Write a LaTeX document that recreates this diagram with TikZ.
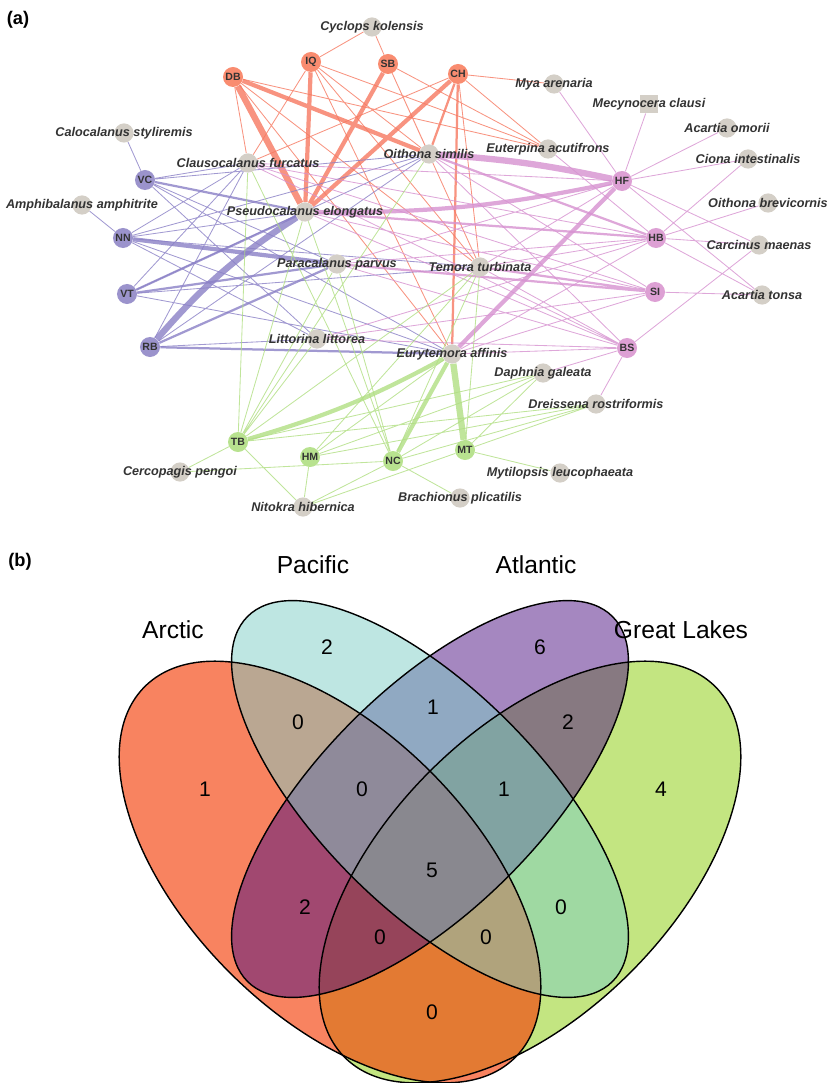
\documentclass[tikz,border=0pt]{standalone}
\usepackage{fontspec}
\setmainfont{Liberation Sans}
\setsansfont{Liberation Sans}
\usetikzlibrary{backgrounds}

\definecolor{arcred}{RGB}{249,140,112}
\definecolor{atlpurple}{RGB}{155,147,204}
\definecolor{pacpink}{RGB}{221,160,212}
\definecolor{lakegreen}{RGB}{184,226,143}
\definecolor{spgray}{RGB}{212,207,199}
\definecolor{txtgray}{RGB}{51,51,51}
\definecolor{redlink}{RGB}{246,120,96}
\definecolor{purplelink}{RGB}{138,128,198}
\definecolor{pinklink}{RGB}{214,145,208}
\definecolor{greenlink}{RGB}{176,222,130}
\definecolor{vennarctic}{RGB}{245,65,11}
\definecolor{vennpacific}{RGB}{125,205,197}
\definecolor{vennatlantic}{RGB}{75,15,129}
\definecolor{vennlakes}{RGB}{135,203,3}

\tikzset{
  region/.style={circle, fill=#1, minimum size=0.5cm, inner sep=0pt,
    font=\fontsize{7.5}{8}\selectfont\bfseries, text=txtgray},
  species/.style={circle, fill=spgray, minimum size=0.48cm, inner sep=0pt},
  spsquare/.style={rectangle, fill=spgray, minimum size=0.46cm, inner sep=0pt},
  splabel/.style={font=\fontsize{9}{10}\selectfont\bfseries\itshape,
    text=txtgray, inner sep=0pt},
  link/.style={draw=#1, opacity=0.8, line width=0.6pt},
  lnmid/.style={line width=1.6pt},
  lnthick/.style={line width=3pt},
  lnxthick/.style={line width=4.5pt},
  vennfill/.style={fill=#1, fill opacity=0.5},
  vennline/.style={draw=black, line width=1pt},
  setname/.style={font=\fontsize{17.5}{20}\selectfont, text=black},
  count/.style={font=\fontsize{15}{18}\selectfont, text=black},
  panel/.style={font=\fontsize{13}{15}\selectfont\bfseries},
}

\begin{document}
\begin{tikzpicture}[x=0.025cm, y=-0.025cm]
  \useasboundingbox (0,0) rectangle (830,1083);
  \node[panel] (pa) at (18,20) {(a)};
  \node[panel] (pb) at (20,562) {(b)};

  % sampling sites
  \node[region=arcred] (DB) at (233,77) {DB};
  \node[region=arcred] (IQ) at (311,62) {IQ};
  \node[region=arcred] (SB) at (388,64) {SB};
  \node[region=arcred] (CH) at (458,74) {CH};
  \node[region=atlpurple] (VC) at (145,180) {VC};
  \node[region=atlpurple] (NN) at (123,238) {NN};
  \node[region=atlpurple] (VT) at (127,294) {VT};
  \node[region=atlpurple] (RB) at (150,347) {RB};
  \node[region=pacpink] (HF) at (622,181) {HF};
  \node[region=pacpink] (HB) at (656,238) {HB};
  \node[region=pacpink] (SI) at (655,292) {SI};
  \node[region=pacpink] (BS) at (627,348) {BS};
  \node[region=lakegreen] (TB) at (238,442) {TB};
  \node[region=lakegreen] (HM) at (310,457) {HM};
  \node[region=lakegreen] (NC) at (393,461) {NC};
  \node[region=lakegreen] (MT) at (465,450) {MT};

  % species
  \node[species] (cyclops) at (372,27) {};
  \node[species] (caloc) at (124,133) {};
  \node[species] (amphib) at (82,205) {};
  \node[species] (clauso) at (248,163) {};
  \node[species] (pseudo) at (305,212) {};
  \node[species] (oithsim) at (429,154) {};
  \node[species] (paraca) at (337,264) {};
  \node[species] (temora) at (480,267) {};
  \node[species] (littor) at (317,339) {};
  \node[species] (euryt) at (452,354) {};
  \node[species] (euterp) at (548,149) {};
  \node[species] (mya) at (554,84) {};
  \node[spsquare] (mecyn) at (649,104) {};
  \node[species] (acomor) at (727,128) {};
  \node[species] (ciona) at (748,159) {};
  \node[species] (oithbre) at (768,203) {};
  \node[species] (carcin) at (759,245) {};
  \node[species] (actons) at (762,295) {};
  \node[species] (daphn) at (543,373) {};
  \node[species] (dreiss) at (596,404) {};
  \node[species] (mytil) at (560,473) {};
  \node[species] (brach) at (460,498) {};
  \node[species] (nitok) at (303,507) {};
  \node[species] (cercop) at (180,472) {};

  \node[splabel] (cyclops-t) at (cyclops) {Cyclops kolensis};
  \node[splabel] (caloc-t) at (caloc) {Calocalanus styliremis};
  \node[splabel] (amphib-t) at (amphib) {Amphibalanus amphitrite};
  \node[splabel] (clauso-t) at (clauso) {Clausocalanus furcatus};
  \node[splabel] (pseudo-t) at (pseudo) {Pseudocalanus elongatus};
  \node[splabel] (oithsim-t) at (oithsim) {Oithona similis};
  \node[splabel] (paraca-t) at (paraca) {Paracalanus parvus};
  \node[splabel] (temora-t) at (temora) {Temora turbinata};
  \node[splabel] (littor-t) at (littor) {Littorina littorea};
  \node[splabel] (euryt-t) at (euryt) {Eurytemora affinis};
  \node[splabel] (euterp-t) at (euterp) {Euterpina acutifrons};
  \node[splabel] (mya-t) at (mya) {Mya arenaria};
  \node[splabel] (mecyn-t) at (mecyn) {Mecynocera clausi};
  \node[splabel] (acomor-t) at (acomor) {Acartia omorii};
  \node[splabel] (ciona-t) at (ciona) {Ciona intestinalis};
  \node[splabel] (oithbre-t) at (oithbre) {Oithona brevicornis};
  \node[splabel] (carcin-t) at (carcin) {Carcinus maenas};
  \node[splabel] (actons-t) at (actons) {Acartia tonsa};
  \node[splabel] (daphn-t) at (daphn) {Daphnia galeata};
  \node[splabel] (dreiss-t) at (dreiss) {Dreissena rostriformis};
  \node[splabel] (mytil-t) at (mytil) {Mytilopsis leucophaeata};
  \node[splabel] (brach-t) at (brach) {Brachionus plicatilis};
  \node[splabel] (nitok-t) at (nitok) {Nitokra hibernica};
  \node[splabel] (cercop-t) at (cercop) {Cercopagis pengoi};

  \begin{pgfonlayer}{background}
  % arctic links
  \draw[link=redlink] (DB) -- (clauso) (DB) -- (euterp) (DB) -- (temora) (DB) -- (euryt)
    (IQ) -- (cyclops) (IQ) -- (clauso) (IQ) -- (oithsim) (IQ) -- (euterp) (IQ) -- (temora) (IQ) -- (euryt)
    (SB) -- (cyclops) (SB) -- (oithsim) (SB) -- (euterp) (SB) -- (temora)
    (CH) -- (mya) (CH) -- (euterp) (CH) -- (clauso) (CH) -- (temora);
  \draw[link=redlink, lnmid] (CH) -- (oithsim) (CH) -- (euryt);
  \draw[link=redlink, lnthick] (DB) -- (oithsim) (IQ) -- (pseudo) (SB) -- (pseudo) (CH) -- (pseudo);
  \draw[link=redlink, lnxthick] (DB) -- (pseudo);
  % atlantic links
  \draw[link=purplelink] (VC) -- (caloc) (VC) -- (clauso) (VC) -- (oithsim) (VC) -- (paraca) (VC) -- (littor) (VC) -- (euryt)
    (NN) -- (amphib) (NN) -- (clauso) (NN) -- (oithsim) (NN) -- (pseudo) (NN) -- (littor) (NN) -- (euryt) (NN) -- (temora)
    (VT) -- (clauso) (VT) -- (oithsim) (VT) -- (euryt) (VT) -- (temora)
    (RB) -- (clauso) (RB) -- (oithsim) (RB) -- (littor);
  \draw[link=purplelink, lnmid] (VC) -- (pseudo) (VT) -- (pseudo) (VT) -- (paraca) (RB) -- (paraca) (RB) -- (euryt);
  \draw[link=purplelink, lnthick] (NN) -- (paraca);
  \draw[link=purplelink, lnxthick] (RB) to[bend left=8] (pseudo);
  % pacific links
  \draw[link=pinklink] (HF) -- (mya) (HF) -- (mecyn) (HF) -- (acomor) (HF) -- (ciona) (HF) -- (clauso) (HF) -- (temora)
    (HF) -- (paraca) (HF) -- (actons) (HF) -- (carcin)
    (HB) -- (clauso) (HB) -- (temora) (HB) -- (euryt) (HB) -- (paraca) (HB) -- (euterp) (HB) -- (ciona)
    (HB) -- (oithbre) (HB) -- (carcin) (HB) -- (actons) (HB) -- (littor)
    (SI) -- (oithsim) (SI) -- (pseudo) (SI) -- (clauso) (SI) -- (euryt) (SI) -- (actons) (SI) -- (littor)
    (BS) -- (temora) (BS) -- (oithsim) (BS) -- (pseudo) (BS) -- (paraca) (BS) -- (euryt) (BS) -- (littor)
    (BS) -- (daphn) (BS) -- (dreiss) (BS) -- (carcin) (BS) -- (clauso);
  \draw[link=pinklink, lnmid] (HB) -- (oithsim) (HB) -- (pseudo) (SI) -- (paraca) (SI) -- (temora);
  \draw[link=pinklink, lnthick] (HF) to[bend left=6] (pseudo) (HF) -- (euryt);
  \draw[link=pinklink, lnxthick] (HF) to[bend right=4] (oithsim);
  % great lakes links
  \draw[link=greenlink] (TB) -- (clauso) (TB) -- (pseudo) (TB) -- (paraca) (TB) -- (oithsim) (TB) -- (temora)
    (TB) -- (littor) (TB) -- (daphn) (TB) -- (dreiss) (TB) -- (cercop) (TB) -- (nitok)
    (HM) -- (euryt) (HM) -- (daphn) (HM) -- (dreiss) (HM) -- (nitok) (HM) -- (temora)
    (NC) -- (pseudo) (NC) -- (paraca) (NC) -- (temora) (NC) -- (clauso) (NC) -- (daphn) (NC) -- (dreiss)
    (NC) -- (brach) (NC) -- (cercop) (NC) -- (nitok)
    (MT) -- (temora) (MT) -- (daphn) (MT) -- (dreiss) (MT) -- (mytil) (MT) -- (nitok);
  \draw[link=greenlink, lnthick] (TB) to[bend right=6] (euryt) (NC) -- (euryt);
  \draw[link=greenlink, lnxthick] (MT) -- (euryt);
  \end{pgfonlayer}

  % venn diagram
  \fill[vennfill=vennlakes, rotate around={45:(530,872)}] (530,872) ellipse [x radius=6.55cm, y radius=3.55cm];
  \fill[fill=vennarctic, fill opacity=0.65, rotate around={-45:(330,872)}] (330,872) ellipse [x radius=6.55cm, y radius=3.55cm];
  \fill[vennfill=vennatlantic, rotate around={45:(430,799)}] (430,799) ellipse [x radius=6.45cm, y radius=2.75cm];
  \fill[vennfill=vennpacific, rotate around={-45:(430,799)}] (430,799) ellipse [x radius=6.45cm, y radius=2.75cm];
  \draw[vennline, rotate around={45:(530,872)}] (530,872) ellipse [x radius=6.55cm, y radius=3.55cm];
  \draw[vennline, rotate around={-45:(330,872)}] (330,872) ellipse [x radius=6.55cm, y radius=3.55cm];
  \draw[vennline, rotate around={45:(430,799)}] (430,799) ellipse [x radius=6.45cm, y radius=2.75cm];
  \draw[vennline, rotate around={-45:(430,799)}] (430,799) ellipse [x radius=6.45cm, y radius=2.75cm];

  \node[setname] (arctic) at (173,630) {Arctic};
  \node[setname] (pacific) at (313,565) {Pacific};
  \node[setname] (atlantic) at (536,565) {Atlantic};
  \node[setname] (lakes) at (681,630) {Great Lakes};

  \node[count] (n1) at (327,647) {2};
  \node[count] (n2) at (540,647) {6};
  \node[count] (n3) at (205,789) {1};
  \node[count] (n4) at (661,789) {4};
  \node[count] (n5) at (298,722) {0};
  \node[count] (n6) at (433,707) {1};
  \node[count] (n7) at (568,722) {2};
  \node[count] (n8) at (362,789) {0};
  \node[count] (n9) at (504,789) {1};
  \node[count] (n10) at (432,870) {5};
  \node[count] (n11) at (305,907) {2};
  \node[count] (n12) at (561,907) {0};
  \node[count] (n13) at (380,937) {0};
  \node[count] (n14) at (486,937) {0};
  \node[count] (n15) at (432,1012) {0};
\end{tikzpicture}
\end{document}
